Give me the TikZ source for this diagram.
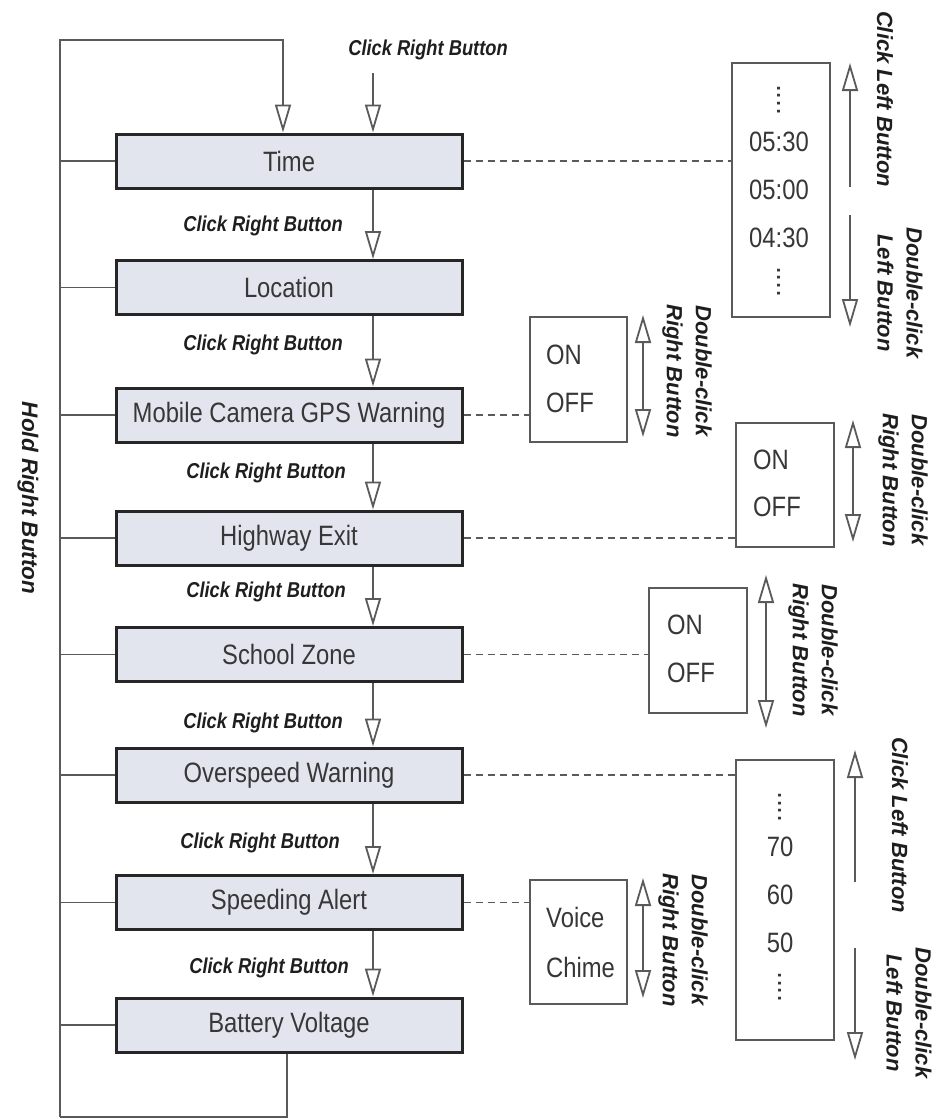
\documentclass[tikz,border=0pt]{standalone}
\usepackage{fontspec}
\setmainfont{Liberation Sans}[FakeStretch=0.85]
\newfontfamily\rotfont{Liberation Sans}
\usetikzlibrary{arrows.meta}
\definecolor{boxfill}{RGB}{226,229,238}
\definecolor{linegray}{RGB}{90,90,90}
\definecolor{boxtext}{RGB}{55,55,55}
\definecolor{labeltext}{RGB}{30,30,30}
\tikzset{
  menubox/.style={draw=black!85, line width=3pt, fill=boxfill, minimum width=346pt, minimum height=54pt, inner sep=0pt, font=\fontsize{28}{32}\selectfont, text=boxtext},
  valbox/.style={draw=linegray, line width=2pt, fill=white, inner sep=0pt},
  valtext/.style={font=\fontsize{28}{32}\selectfont, text=boxtext, inner sep=0pt},
  dotstext/.style={font=\rotfont\fontsize{28}{32}\selectfont, text=boxtext, inner sep=0pt, rotate=90},
  clicklabel/.style={font=\fontsize{21.5}{24}\selectfont\bfseries\itshape, text=labeltext, inner sep=0pt},
  rotlabel/.style={font=\rotfont\fontsize{22}{29}\selectfont\bfseries\itshape, text=labeltext, inner sep=0pt, rotate=-90, align=center},
  conn/.style={draw=linegray, line width=1.8pt},
  flow/.style={draw=linegray, line width=1.8pt, -{Triangle[open,length=28pt,width=16pt]}},
  twoway/.style={draw=linegray, line width=1.8pt, {Triangle[open,length=28pt,width=16pt]}-{Triangle[open,length=28pt,width=16pt]}},
  dashlink/.style={draw=linegray, line width=1.6pt, dash pattern=on 7pt off 5pt}
}
\begin{document}
\begin{tikzpicture}[x=1pt, y=-1pt]
\useasboundingbox (0,0) rectangle (945,1119);

% main menu boxes
\node[menubox] (time)     at (289,161)   {Time};
\node[menubox] (location) at (289,287.5) {Location};
\node[menubox] (mobile)   at (289,415)   {Mobile Camera GPS Warning};
\node[menubox] (highway)  at (289,538)   {Highway Exit};
\node[menubox] (school)   at (289,654.5) {School Zone};
\node[menubox] (overspeed) at (289,775)  {Overspeed Warning};
\node[menubox] (speeding) at (289,902.5) {Speeding Alert};
\node[menubox] (battery)  at (289,1025)  {Battery Voltage};

% bus on the left
\coordinate (bustop) at (60,40);
\coordinate (busbot) at (60,1117);
\coordinate (tl) at (283,40);
\coordinate (bb) at (287,1117);
\draw[flow] (busbot) -- (bustop) -- (tl) -- (tl |- time.north);
\draw[conn] (battery.south -| bb) -- (bb) -- (busbot);
\foreach \n in {time,location,mobile,highway,school,overspeed,speeding,battery}
  \draw[conn] (\n.west -| busbot) -- (\n.west);
\node[rotlabel, font=\rotfont\fontsize{22.5}{29}\selectfont\bfseries\itshape] (hold) at (28,498) {Hold Right Button};

% top click
\coordinate (cstart) at (373,73);
\coordinate (fx) at (373,0);
\draw[flow] (cstart) -- (cstart |- time.north);
\node[clicklabel] (c0) at (428,50) {Click Right Button};

% flow arrows
\draw[flow] (time.south -| fx) -- (location.north -| fx);
\draw[flow] (location.south -| fx) -- (mobile.north -| fx);
\draw[flow] (mobile.south -| fx) -- (highway.north -| fx);
\draw[flow] (highway.south -| fx) -- (school.north -| fx);
\draw[flow] (school.south -| fx) -- (overspeed.north -| fx);
\draw[flow] (overspeed.south -| fx) -- (speeding.north -| fx);
\draw[flow] (speeding.south -| fx) -- (battery.north -| fx);
\node[clicklabel] (c1) at (263,226) {Click Right Button};
\node[clicklabel] (c2) at (263,345) {Click Right Button};
\node[clicklabel] (c3) at (266,473) {Click Right Button};
\node[clicklabel] (c4) at (266,592) {Click Right Button};
\node[clicklabel] (c5) at (263,723) {Click Right Button};
\node[clicklabel] (c6) at (260,843) {Click Right Button};
\node[clicklabel] (c7) at (269,968) {Click Right Button};

% ---- Time values
\node[valbox, minimum width=98pt, minimum height=254pt] (tv) at (781,190) {};
\node[dotstext] (tvd1) at (779,100) {....};
\node[valtext] (tv1) at (779,142) {05:30};
\node[valtext] (tv2) at (779,190) {05:00};
\node[valtext] (tv3) at (779,238) {04:30};
\node[dotstext] (tvd2) at (779,282) {....};
\draw[dashlink] (time.east) -- (time.east -| tv.west);
\coordinate (tua) at (850,63);
\coordinate (tub) at (850,187);
\coordinate (tda) at (850,215);
\coordinate (tdb) at (850,327);
\draw[flow] (tub) -- (tua);
\draw[flow] (tda) -- (tdb);
\node[rotlabel] (tl1) at (885,99) {Click Left Button};
\node[rotlabel] (tl2) at (900,293) {Double-click\\Left Button};

% ---- Mobile values
\node[valbox, minimum width=97pt, minimum height=125pt] (mv) at (578.5,379.5) {};
\node[valtext, anchor=west] (mv1) at (546,355) {ON};
\node[valtext, anchor=west] (mv2) at (546,403) {OFF};
\draw[dashlink] (mobile.east) -- (mobile.east -| mv.west);
\coordinate (ma) at (643,315);
\coordinate (mb) at (643,437);
\draw[twoway] (ma) -- (mb);
\node[rotlabel] (ml) at (687,371) {Double-click\\Right Button};

% ---- Highway values
\node[valbox, minimum width=98pt, minimum height=124pt] (hv) at (785,485) {};
\node[valtext, anchor=west] (hv1) at (753,460) {ON};
\node[valtext, anchor=west] (hv2) at (753,507) {OFF};
\draw[dashlink] (highway.east) -- (highway.east -| hv.west);
\coordinate (ha) at (853,420);
\coordinate (hb) at (853,542);
\draw[twoway] (ha) -- (hb);
\node[rotlabel] (hl) at (903,480) {Double-click\\Right Button};

% ---- School values
\node[valbox, minimum width=98pt, minimum height=125pt] (sv) at (698,650.5) {};
\node[valtext, anchor=west] (sv1) at (667,625) {ON};
\node[valtext, anchor=west] (sv2) at (667,673) {OFF};
\draw[dashlink] (school.east) -- (school.east -| sv.west);
\coordinate (sa) at (766,575);
\coordinate (sb) at (766,728);
\draw[twoway] (sa) -- (sb);
\node[rotlabel] (sl) at (813,650) {Double-click\\Right Button};

% ---- Overspeed values
\node[valbox, minimum width=98pt, minimum height=280pt] (ov) at (785,900) {};
\node[dotstext] (ovd1) at (780,807) {....};
\node[valtext] (ov1) at (780,847) {70};
\node[valtext] (ov2) at (780,895) {60};
\node[valtext] (ov3) at (780,943) {50};
\node[dotstext] (ovd2) at (780,987) {....};
\draw[dashlink] (overspeed.east) -- (overspeed.east -| ov.west);
\coordinate (oua) at (855,750);
\coordinate (oub) at (855,882);
\coordinate (oda) at (855,948);
\coordinate (odb) at (855,1060);
\draw[flow] (oub) -- (oua);
\draw[flow] (oda) -- (odb);
\node[rotlabel] (ol1) at (900,825) {Click Left Button};
\node[rotlabel] (ol2) at (909,1013) {Double-click\\Left Button};

% ---- Speeding values
\node[valbox, minimum width=97pt, minimum height=124pt] (spv) at (578.5,942) {};
\node[valtext, anchor=west] (spv1) at (546,917) {Voice};
\node[valtext, anchor=west] (spv2) at (546,967) {Chime};
\draw[dashlink] (speeding.east) -- (speeding.east -| spv.west);
\coordinate (pa) at (643,878);
\coordinate (pb) at (643,998);
\draw[twoway] (pa) -- (pb);
\node[rotlabel] (pl) at (683,940) {Double-click\\Right Button};
\end{tikzpicture}
\end{document}
